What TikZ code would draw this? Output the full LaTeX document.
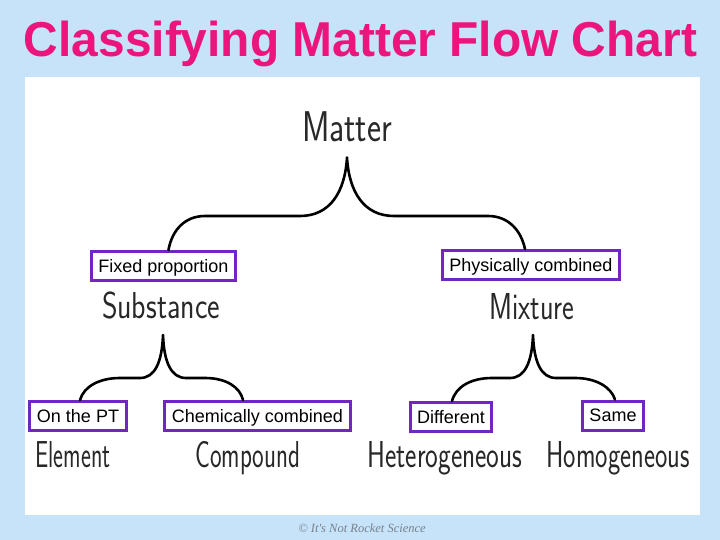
\documentclass[tikz,border=0pt]{standalone}
\usepackage{fontspec}
\usepackage{graphicx}
\usetikzlibrary{calc}
\setmainfont{Liberation Sans}
\newfontfamily\wmfont{Liberation Serif}
\definecolor{bgblue}{RGB}{198,227,250}
\definecolor{titlepink}{RGB}{236,20,125}
\definecolor{boxpurple}{RGB}{112,38,194}
\definecolor{handgray}{RGB}{40,40,40}
\definecolor{wmgray}{RGB}{120,130,140}
\newcommand\hwtext[2]{\resizebox{#1}{\height}{#2}}
\tikzset{
  hand/.style={font=\sffamily\fontsize{#1}{#1}\selectfont, text=handgray, anchor=base, inner sep=0pt},
  lbl/.style={draw=boxpurple, line width=3pt, fill=white, text=black,
    font=\fontsize{18}{18}\selectfont, inner xsep=7pt, inner ysep=6.5pt,
    text height=14pt, text depth=2pt},
  brace/.style={draw=black, line width=2.6pt, line cap=round, line join=round}
}
\begin{document}
\begin{tikzpicture}[x=1pt,y=-1pt]
\fill[bgblue] (0,0) rectangle (720,540);
\useasboundingbox (0,0) rectangle (720,540);
\fill[white] (25,77) rectangle (700,515);
% title
\node[font=\bfseries\fontsize{49}{49}\selectfont, text=titlepink, anchor=base] (title) at (360.5,57) {\resizebox{673pt}{\height}{Classifying Matter Flow Chart}};
% terms
\node[hand=43] (matter) at (347,142) {\hwtext{90pt}{Matter}};
\node[hand=37.5] (substance) at (161,318) {\hwtext{118pt}{Substance}};
\node[hand=37.5] (mixture) at (532,319) {\hwtext{85pt}{Mixture}};
\node[hand=37.5] (element) at (73,467) {\hwtext{75pt}{Element}};
\node[hand=37.5] (compound) at (248,467) {\hwtext{105pt}{Compound}};
\node[hand=37.5] (hetero) at (445,467) {\hwtext{155pt}{Heterogeneous}};
\node[hand=37.5] (homo) at (618,467) {\hwtext{143pt}{Homogeneous}};
% boxes
\node[lbl] (bfixed) at (163.5,266) {Fixed proportion};
\node[lbl] (bphys) at (531,265) {Physically combined};
\node[lbl] (bpt) at (78,416) {On the PT};
\node[lbl] (bchem) at (257.5,416) {Chemically combined};
\node[lbl] (bdiff) at (451,417) {Different};
\node[lbl] (bsame) at (613,415.5) {Same};
% main brace
\coordinate (mtip) at ($(matter.south)+(0,15)$);
\path[brace] ($(bfixed.north)+(5,0)$) .. controls (172,230) and (185,216) .. (205,216)
  -- (300,216) .. controls (330,216) and (345,192) .. (mtip)
  .. controls (349,192) and (364,216) .. (394,216)
  -- (488,216) .. controls (508,216) and (521,230) .. ($(bphys.north)+(-6,0)$);
% substance brace
\coordinate (stip) at (163,335);
\path[brace] ($(bpt.north)+(2,0)$) .. controls (84,386) and (100,378) .. (120,378)
  -- (140,378) .. controls (155,378) and (162,362) .. (stip)
  .. controls (164,362) and (171,378) .. (186,378)
  -- (205,378) .. controls (226,378) and (240,387) .. ($(bchem.north)+(-14.5,0)$);
% mixture brace
\coordinate (xtip) at (533,335);
\path[brace] ($(bdiff.north)+(1,0)$) .. controls (456,386) and (472,378) .. (492,378)
  -- (510,378) .. controls (525,378) and (532,362) .. (xtip)
  .. controls (534,362) and (541,378) .. (556,378)
  -- (575,378) .. controls (596,378) and (611,387) .. ($(bsame.north)+(2,0)$);
% watermark
\node[font=\wmfont\itshape\fontsize{12.5}{12.5}\selectfont, text=wmgray] (wm) at (362,528) {\textcopyright{} It's Not Rocket Science};
\end{tikzpicture}
\end{document}
